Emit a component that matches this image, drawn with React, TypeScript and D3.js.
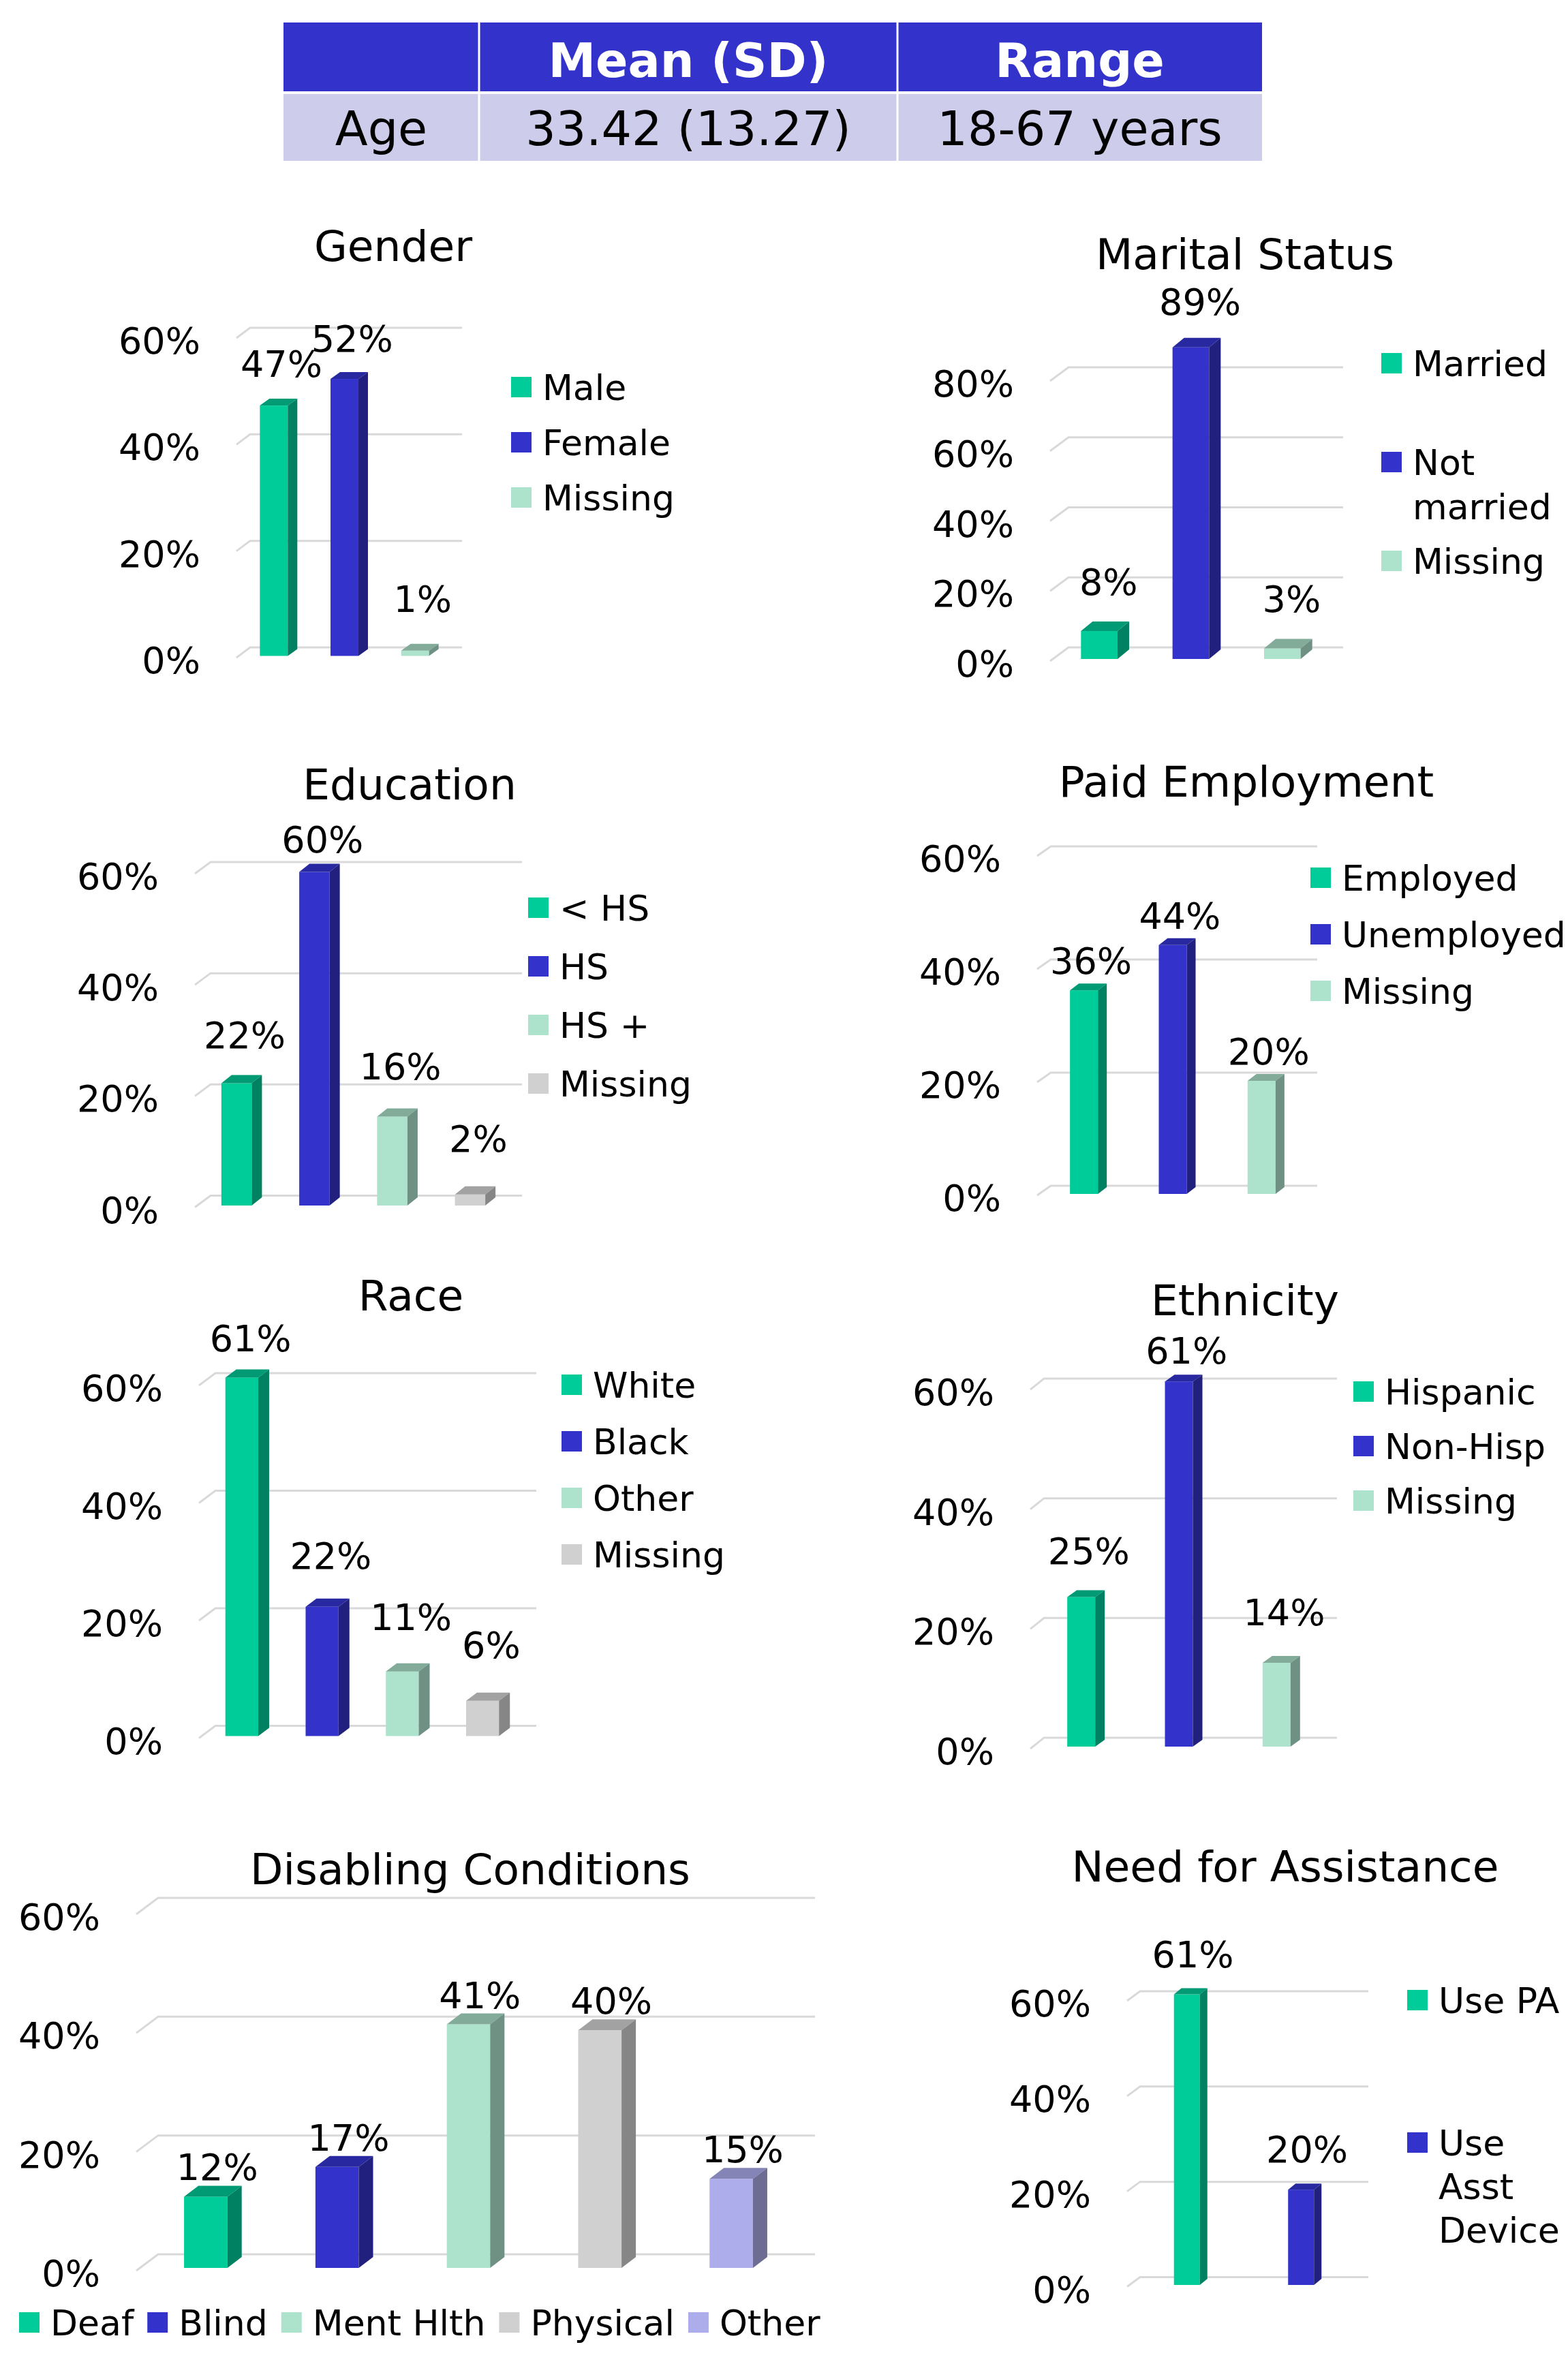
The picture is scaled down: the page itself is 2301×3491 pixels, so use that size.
import { useEffect, useRef } from 'react';
import * as d3 from 'd3';

const W = 2301;
const H = 3491;
const FONT = '"DejaVu Sans", Verdana, sans-serif';

// Age table
const tableHeader = ['', 'Mean (SD)', 'Range'];
const tableRow = ['Age', '33.42 (13.27)', '18-67 years'];

// chart data
const genderCats = ['Male', 'Female', 'Missing'];
const genderVals = [0.47, 0.52, 0.01];

const maritalCats = ['Married', 'Not married', 'Missing'];
const maritalVals = [0.08, 0.89, 0.03];

const educationCats = ['< HS', 'HS', 'HS +', 'Missing'];
const educationVals = [0.22, 0.6, 0.16, 0.02];

const employmentCats = ['Employed', 'Unemployed', 'Missing'];
const employmentVals = [0.36, 0.44, 0.2];

const raceCats = ['White', 'Black', 'Other', 'Missing'];
const raceVals = [0.61, 0.22, 0.11, 0.06];

const ethnicityCats = ['Hispanic', 'Non-Hisp', 'Missing'];
const ethnicityVals = [0.25, 0.61, 0.14];

const disablingCats = ['Deaf', 'Blind', 'Ment Hlth', 'Physical', 'Other'];
const disablingVals = [0.12, 0.17, 0.41, 0.4, 0.15];

const needCats = ['Use PA', 'Use Asst Device'];
const needVals = [0.61, 0.2];

// front / top / side shades for each series position
const PALETTE = [
    { front: '#00CC99', top: '#009B75', side: '#008262' },
    { front: '#3333CC', top: '#2828A0', side: '#21207F' },
    { front: '#ADE3CC', top: '#82AB9A', side: '#6F9183' },
    { front: '#D0D0D0', top: '#A2A2A2', side: '#868686' },
    { front: '#ADADEB', top: '#8484B6', side: '#6D6D94' },
];

const CHARTS = [
    {
        title: 'Gender', cats: genderCats, vals: genderVals, max: 0.6,
        titleX: 577, titleY: 383,
        x0: 367, x1: 678, y0: 950, yTop: 481, ddx: 20, ddy: 15, barFrac: 0.395, bdx: 14, bdy: 10,
        gap: [38, 57],
        legend: { x: 750, y: 568, step: 81 },
    },
    {
        title: 'Marital Status', cats: maritalCats, vals: maritalVals, max: 0.8,
        titleX: 1827, titleY: 395,
        x0: 1568, x1: 1971, y0: 950, yTop: 539, ddx: 27, ddy: 20, barFrac: 0.4, bdx: 17, bdy: 14,
        gap: [48, 54],
        legend: { x: 2027, y: 533, step: 145, wrap: 225, lineH: 65 },
    },
    {
        title: 'Education', cats: educationCats, vals: educationVals, max: 0.6,
        titleX: 601, titleY: 1173,
        x0: 309, x1: 766, y0: 1754.5, yTop: 1265, ddx: 23, ddy: 17, barFrac: 0.39, bdx: 15, bdy: 12,
        gap: [29, 64],
        legend: { x: 775, y: 1332, step: 86 },
    },
    {
        title: 'Paid Employment', cats: employmentCats, vals: employmentVals, max: 0.6,
        titleX: 1829, titleY: 1169,
        x0: 1542, x1: 1933, y0: 1740, yTop: 1242, ddx: 20, ddy: 14, barFrac: 0.315, bdx: 13, bdy: 10,
        gap: [24, 24],
        legend: { x: 1923, y: 1288, step: 83 },
    },
    {
        title: 'Race', cats: raceCats, vals: raceVals, max: 0.6,
        titleX: 603, titleY: 1923,
        x0: 316, x1: 787, y0: 2532.5, yTop: 2015, ddx: 24, ddy: 18, barFrac: 0.41, bdx: 16, bdy: 12,
        gap: [38, 66],
        legend: { x: 824, y: 2032, step: 83 },
    },
    {
        title: 'Ethnicity', cats: ethnicityCats, vals: ethnicityVals, max: 0.6,
        titleX: 1827, titleY: 1930,
        x0: 1532, x1: 1962, y0: 2550, yTop: 2023, ddx: 20, ddy: 16, barFrac: 0.286, bdx: 14, bdy: 10,
        gap: [26, 64],
        legend: { x: 1986, y: 2042, step: 80 },
    },
    {
        title: 'Disabling Conditions', cats: disablingCats, vals: disablingVals, max: 0.6,
        titleX: 690, titleY: 2765,
        x0: 232, x1: 1196, y0: 3308, yTop: 2785, ddx: 32, ddy: 24, barFrac: 0.33, bdx: 21, bdy: 16,
        gap: [24, 24],
        legend: { x: 28, y: 3408, horizontal: true, itemGap: 20 },
    },
    {
        title: 'Need for Assistance', cats: needCats, vals: needVals, max: 0.6,
        titleX: 1886, titleY: 2761,
        x0: 1673, x1: 2008, y0: 3341.5, yTop: 2922, ddx: 19, ddy: 14, barFrac: 0.227, bdx: 11, bdy: 9,
        gap: [40, 40],
        legend: { x: 2065, y: 2935, step: 209, wrap: 195, lineH: 64 },
    },
];

const pct = d3.format('.0%');
const LEGEND_SIZE = 52;

function wrapWords(g, text, maxWidth) {
    if (!maxWidth) return [text];
    const probe = g.append('text').attr('font-family', FONT).attr('font-size', LEGEND_SIZE);
    const measure = s => { probe.text(s); return probe.node().getComputedTextLength(); };
    const words = text.split(' ');
    const lines = [];
    let line = '';
    words.forEach(w => {
        const next = line ? `${line} ${w}` : w;
        if (line && measure(next) > maxWidth) {
            lines.push(line);
            line = w;
        } else {
            line = next;
        }
    });
    if (line) lines.push(line);
    probe.remove();
    return lines;
}

function drawTable(svg) {
    const cols = [416, 703, 1317, 1852];
    const g = svg.append('g').attr('font-family', FONT).attr('font-size', 70);

    tableHeader.forEach((t, i) => {
        g.append('rect')
            .attr('x', cols[i] + (i ? 1.5 : 0)).attr('y', 33)
            .attr('width', cols[i + 1] - cols[i] - (i ? 1.5 : 0) - (i < 2 ? 1.5 : 0)).attr('height', 101)
            .attr('fill', '#3333CC');
        g.append('text')
            .attr('x', (cols[i] + cols[i + 1]) / 2).attr('y', 113)
            .attr('text-anchor', 'middle').attr('font-weight', 'bold').attr('fill', '#fff')
            .text(t);
    });
    tableRow.forEach((t, i) => {
        g.append('rect')
            .attr('x', cols[i] + (i ? 1.5 : 0)).attr('y', 138)
            .attr('width', cols[i + 1] - cols[i] - (i ? 1.5 : 0) - (i < 2 ? 1.5 : 0)).attr('height', 98)
            .attr('fill', '#CDCDEB');
        g.append('text')
            .attr('x', (cols[i] + cols[i + 1]) / 2).attr('y', 213)
            .attr('text-anchor', 'middle').attr('fill', '#000')
            .text(t);
    });
}

function drawChart(svg, c) {
    const g = svg.append('g').attr('font-family', FONT);
    const p = 1 - c.barFrac;

    const x = d3.scaleBand().domain(c.cats).range([c.x0, c.x1]).paddingInner(p).paddingOuter(p / 2);
    const y = d3.scaleLinear().domain([0, c.max]).range([c.y0, c.yTop]);
    const ticks = d3.range(0, c.max + 1e-9, 0.2);

    // back wall gridlines + floor edge diagonals
    g.append('g').selectAll('path')
        .data(ticks)
        .join('path')
        .attr('d', t => `M${c.x0 - c.ddx},${y(t) + c.ddy}L${c.x0},${y(t)}L${c.x1},${y(t)}`)
        .attr('fill', 'none')
        .attr('stroke', '#D9D9D9')
        .attr('stroke-width', 3);

    // y tick labels
    g.append('g').selectAll('text')
        .data(ticks)
        .join('text')
        .attr('x', c.x0 - c.ddx - 53)
        .attr('y', t => y(t) + c.ddy + 23)
        .attr('text-anchor', 'end')
        .attr('font-size', 54)
        .attr('fill', '#000')
        .text(t => pct(t));

    // 3D columns
    const fx = -c.ddx + (c.ddx - c.bdx) / 2;
    const fy = c.ddy - (c.ddy - c.bdy) / 2;
    const bw = x.bandwidth();
    const bars = c.cats.map((cat, i) => {
        const left = x(cat) + fx;
        const top = y(c.vals[i]) + fy;
        const bottom = y(0) + fy;
        return { cat, v: c.vals[i], col: PALETTE[i], left, top, bottom };
    });

    const bg = g.append('g');
    bars.forEach(b => {
        bg.append('rect')
            .attr('x', b.left).attr('y', b.top)
            .attr('width', bw).attr('height', b.bottom - b.top)
            .attr('fill', b.col.front);
        bg.append('path')
            .attr('d', `M${b.left},${b.top}l${c.bdx},${-c.bdy}h${bw}l${-c.bdx},${c.bdy}Z`)
            .attr('fill', b.col.top);
        bg.append('path')
            .attr('d', `M${b.left + bw},${b.top}l${c.bdx},${-c.bdy}V${b.bottom - c.bdy}l${-c.bdx},${c.bdy}Z`)
            .attr('fill', b.col.side);
    });

    // value labels
    g.append('g').selectAll('text')
        .data(bars)
        .join('text')
        .attr('x', b => b.left + bw / 2 + c.bdx * 0.8)
        .attr('y', b => {
            const r = Math.min(b.v / c.max, 1);
            return b.top - (c.gap[0] + (c.gap[1] - c.gap[0]) * (1 - r));
        })
        .attr('text-anchor', 'middle')
        .attr('font-size', 54)
        .attr('fill', '#000')
        .text(b => pct(b.v));

    // legend
    const lg = g.append('g').attr('font-size', LEGEND_SIZE);
    const L = c.legend;
    if (L.horizontal) {
        let cursor = L.x;
        c.cats.forEach((cat, i) => {
            lg.append('rect')
                .attr('x', cursor).attr('y', L.y - 15)
                .attr('width', 30).attr('height', 30)
                .attr('fill', PALETTE[i].front);
            const t = lg.append('text')
                .attr('x', cursor + 46).attr('y', L.y + 19)
                .attr('fill', '#000')
                .text(cat);
            cursor = cursor + 46 + t.node().getComputedTextLength() + L.itemGap;
        });
    } else {
        c.cats.forEach((cat, i) => {
            const rowY = L.y + i * L.step;
            lg.append('rect')
                .attr('x', L.x).attr('y', rowY - 15)
                .attr('width', 30).attr('height', 30)
                .attr('fill', PALETTE[i].front);
            const lines = wrapWords(lg, cat, L.wrap);
            lines.forEach((ln, j) => {
                lg.append('text')
                    .attr('x', L.x + 46).attr('y', rowY + 19 + j * (L.lineH || 0))
                    .attr('fill', '#000')
                    .text(ln);
            });
        });
    }

    // title
    g.append('text')
        .attr('x', c.titleX).attr('y', c.titleY)
        .attr('text-anchor', 'middle')
        .attr('font-size', 63)
        .attr('fill', '#000')
        .text(c.title);
}

export default function App() {
    const svgRef = useRef(null);

    useEffect(() => {
        if (!svgRef.current) return;
        const svg = d3.select(svgRef.current);
        svg.selectAll('*').remove();

        svg.append('rect').attr('width', W).attr('height', H).attr('fill', '#fff');
        drawTable(svg);
        CHARTS.forEach(c => drawChart(svg, c));
    }, []);

    return (
        <svg
            ref={svgRef}
            width={W}
            height={H}
            style={{ position: 'absolute', left: 0, top: 0, display: 'block' }}
        />
    );
}
